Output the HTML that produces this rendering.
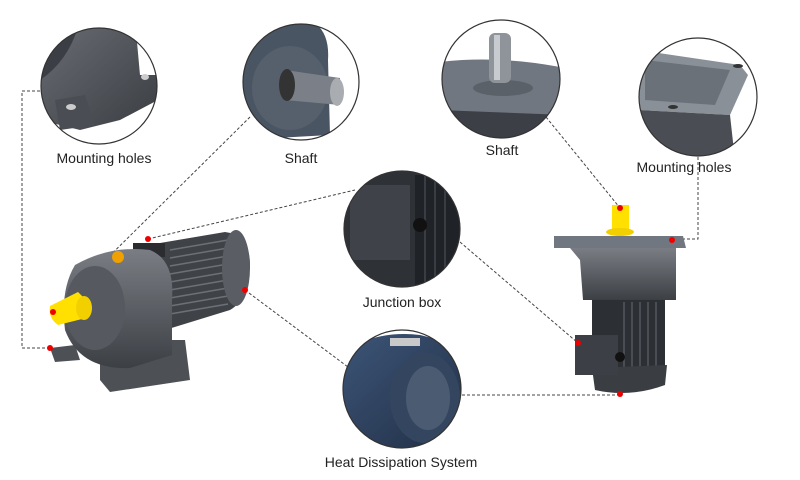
<!DOCTYPE html>
<html><head><style>
html,body{margin:0;padding:0;background:#fff;}
svg{display:block;}
text{font-family:"Liberation Sans",sans-serif;font-size:14px;fill:#222;text-anchor:middle;}
</style></head><body>
<svg width="800" height="480" viewBox="0 0 800 480" xmlns="http://www.w3.org/2000/svg">
<defs>
<clipPath id="c1"><circle cx="99" cy="86" r="58"/></clipPath>
<clipPath id="c2"><circle cx="301" cy="82" r="58"/></clipPath>
<clipPath id="c3"><circle cx="501" cy="79" r="59"/></clipPath>
<clipPath id="c4"><circle cx="698" cy="97" r="59"/></clipPath>
<clipPath id="c5"><circle cx="402" cy="229" r="58"/></clipPath>
<clipPath id="c6"><circle cx="402" cy="389" r="59"/></clipPath>
<linearGradient id="gy" x1="0" y1="0" x2="1" y2="1"><stop offset="0" stop-color="#6a6e74"/><stop offset="1" stop-color="#3a3d42"/></linearGradient>
<linearGradient id="gm" x1="0" y1="0" x2="0" y2="1"><stop offset="0" stop-color="#7a7e84"/><stop offset="1" stop-color="#3c3f44"/></linearGradient>
<linearGradient id="bl" x1="0" y1="0" x2="1" y2="1"><stop offset="0" stop-color="#3d5577"/><stop offset="1" stop-color="#1f2d44"/></linearGradient>
</defs>

<!-- dashed connectors -->
<g stroke="#444" stroke-width="1" stroke-dasharray="3,2" fill="none">
<polyline points="40,91 22,91 22,348 50,348"/>
<line x1="250" y1="117" x2="53" y2="312"/>
<line x1="148" y1="239" x2="355" y2="190"/>
<line x1="245" y1="290" x2="348" y2="367"/>
<line x1="460" y1="242" x2="578" y2="343"/>
<line x1="462" y1="395" x2="620" y2="395"/>
<line x1="546" y1="117" x2="620" y2="208"/>
<polyline points="698,157 698,239 672,239"/>
</g>

<!-- circle 1 mounting holes -->
<g clip-path="url(#c1)">
<rect x="30" y="20" width="140" height="140" fill="#fff"/>
<path d="M40 20 L135 20 L140 75 L158 75 L158 100 L120 120 L80 130 L40 120 Z" fill="url(#gy)"/>
<path d="M40 20 L80 20 Q70 60 40 80 Z" fill="#3b3f45"/>
<path d="M55 100 L85 95 L95 125 L60 130 Z" fill="#4a4e54"/>
<ellipse cx="71" cy="107" rx="5" ry="3" fill="#ccc"/>
<ellipse cx="145" cy="77" rx="4" ry="3" fill="#ccc"/>
</g>
<circle cx="99" cy="86" r="58" fill="none" stroke="#333" stroke-width="1.2"/>

<!-- circle 2 shaft -->
<g clip-path="url(#c2)">
<rect x="240" y="20" width="130" height="130" fill="#fff"/>
<path d="M240 20 L310 20 Q330 30 328 60 L330 135 L240 140 Z" fill="#4a5563"/>
<ellipse cx="290" cy="88" rx="38" ry="42" fill="#56606c"/>
<path d="M285 70 L340 78 L340 105 L285 100 Z" fill="#7b8088"/>
<ellipse cx="337" cy="92" rx="7" ry="14" fill="#a9adb2"/>
<ellipse cx="287" cy="85" rx="8" ry="16" fill="#333"/>
</g>
<circle cx="301" cy="82" r="58" fill="none" stroke="#333" stroke-width="1.2"/>

<!-- circle 3 shaft vertical -->
<g clip-path="url(#c3)">
<rect x="440" y="18" width="125" height="125" fill="#fff"/>
<path d="M440 62 Q500 55 565 68 L565 140 L440 140 Z" fill="#707780"/>
<path d="M440 110 L565 115 L565 140 L440 140 Z" fill="#3c4046"/>
<ellipse cx="503" cy="88" rx="30" ry="8" fill="#5b6168"/>
<rect x="489" y="33" width="22" height="50" rx="6" fill="#8f949a"/>
<rect x="494" y="35" width="6" height="45" fill="#c8ccd0"/>
</g>
<circle cx="501" cy="79" r="59" fill="none" stroke="#333" stroke-width="1.2"/>

<!-- circle 4 flange -->
<g clip-path="url(#c4)">
<rect x="638" y="36" width="125" height="125" fill="#fff"/>
<path d="M638 50 L740 65 L748 75 L730 115 L638 110 Z" fill="#8a9098"/>
<path d="M645 60 L730 70 L715 105 L645 100 Z" fill="#6b7178"/>
<path d="M638 110 L730 115 L735 160 L638 160 Z" fill="#4a4e54"/>
<ellipse cx="738" cy="66" rx="5" ry="2" fill="#333"/>
<ellipse cx="673" cy="107" rx="5" ry="2" fill="#333"/>
</g>
<circle cx="698" cy="97" r="59" fill="none" stroke="#333" stroke-width="1.2"/>

<!-- circle 5 junction -->
<g clip-path="url(#c5)">
<rect x="340" y="168" width="125" height="125" fill="#fff"/>
<rect x="340" y="168" width="125" height="125" fill="#2e3136"/>
<rect x="350" y="185" width="60" height="75" fill="#3f4349"/>
<rect x="415" y="175" width="45" height="110" fill="#1f2226"/>
<g stroke="#3a3e44" stroke-width="2"><line x1="425" y1="170" x2="425" y2="290"/><line x1="435" y1="170" x2="435" y2="290"/><line x1="445" y1="170" x2="445" y2="290"/></g>
<circle cx="420" cy="225" r="7" fill="#111"/>
</g>
<circle cx="402" cy="229" r="58" fill="none" stroke="#333" stroke-width="1.2"/>

<!-- circle 6 heat -->
<g clip-path="url(#c6)">
<rect x="340" y="328" width="125" height="125" fill="#fff"/>
<path d="M343 350 Q380 330 420 335 L460 345 L470 450 L343 450 Z" fill="url(#bl)"/>
<ellipse cx="425" cy="398" rx="35" ry="45" fill="#34465f"/>
<ellipse cx="428" cy="398" rx="22" ry="32" fill="#4a5b72"/>
<rect x="390" y="338" width="30" height="8" fill="#c9c9c9"/>
</g>
<circle cx="402" cy="389" r="59" fill="none" stroke="#333" stroke-width="1.2"/>

<!-- left motor -->
<g>
<path d="M100 340 L185 340 L190 380 L110 392 L100 380 Z" fill="#4d5156"/>
<path d="M50 348 L75 345 L80 360 L55 362 Z" fill="#4d5156"/>
<path d="M160 243 L225 232 Q250 235 250 265 Q248 300 230 310 L165 330 Z" fill="#3f4348"/>
<g stroke="#6d7177" stroke-width="1.5">
<line x1="170" y1="250" x2="228" y2="240"/><line x1="170" y1="258" x2="228" y2="248"/><line x1="170" y1="266" x2="228" y2="256"/><line x1="170" y1="274" x2="228" y2="264"/><line x1="170" y1="282" x2="228" y2="272"/><line x1="170" y1="290" x2="228" y2="280"/><line x1="170" y1="298" x2="228" y2="288"/><line x1="170" y1="306" x2="228" y2="296"/><line x1="170" y1="314" x2="228" y2="304"/></g>
<ellipse cx="236" cy="268" rx="14" ry="38" fill="#5a5e64"/>
<rect x="133" y="243" width="32" height="14" fill="#2a2c30"/>
<path d="M75 265 Q110 245 150 250 Q175 260 172 300 L172 355 L130 368 Q80 370 65 330 Q60 290 75 265 Z" fill="url(#gm)"/>
<ellipse cx="95" cy="308" rx="30" ry="42" fill="#565a60"/>
<circle cx="118" cy="257" r="6" fill="#f0a000"/>
<path d="M50 306 L78 292 L86 300 L86 318 L58 325 Q48 318 50 306 Z" fill="#ffe000"/>
<ellipse cx="84" cy="308" rx="8" ry="12" fill="#f2d000"/>
</g>

<!-- right motor -->
<g>
<rect x="612" y="205" width="17" height="26" fill="#ffe000"/>
<ellipse cx="620" cy="232" rx="14" ry="4" fill="#f2d000"/>
<path d="M554 236 L683 236 L686 248 L554 248 Z" fill="#707780"/>
<path d="M570 248 L676 248 L676 300 L583 300 L580 260 Z" fill="url(#gm)"/>
<rect x="592" y="300" width="73" height="72" fill="#2c2f33"/>
<g stroke="#4a4e54" stroke-width="2"><line x1="624" y1="302" x2="624" y2="370"/><line x1="632" y1="302" x2="632" y2="370"/><line x1="640" y1="302" x2="640" y2="370"/><line x1="648" y1="302" x2="648" y2="370"/><line x1="656" y1="302" x2="656" y2="370"/></g>
<path d="M592 368 L667 365 L665 385 Q630 398 595 390 Z" fill="#3a3d42"/>
<rect x="575" y="335" width="43" height="40" fill="#3c4046"/>
<circle cx="620" cy="357" r="5" fill="#111"/>
</g>

<!-- red dots -->
<g fill="#e00">
<circle cx="50" cy="348" r="3"/><circle cx="53" cy="312" r="3"/><circle cx="148" cy="239" r="3"/><circle cx="245" cy="290" r="3"/>
<circle cx="578" cy="343" r="3"/><circle cx="620" cy="394" r="3"/><circle cx="620" cy="208" r="3"/><circle cx="672" cy="240" r="3"/>
</g>

<!-- labels -->
<text x="104" y="163">Mounting holes</text>
<text x="301" y="163">Shaft</text>
<text x="502" y="155">Shaft</text>
<text x="684" y="172">Mounting holes</text>
<text x="402" y="307">Junction box</text>
<text x="401" y="467">Heat Dissipation System</text>
</svg>
</body></html>
